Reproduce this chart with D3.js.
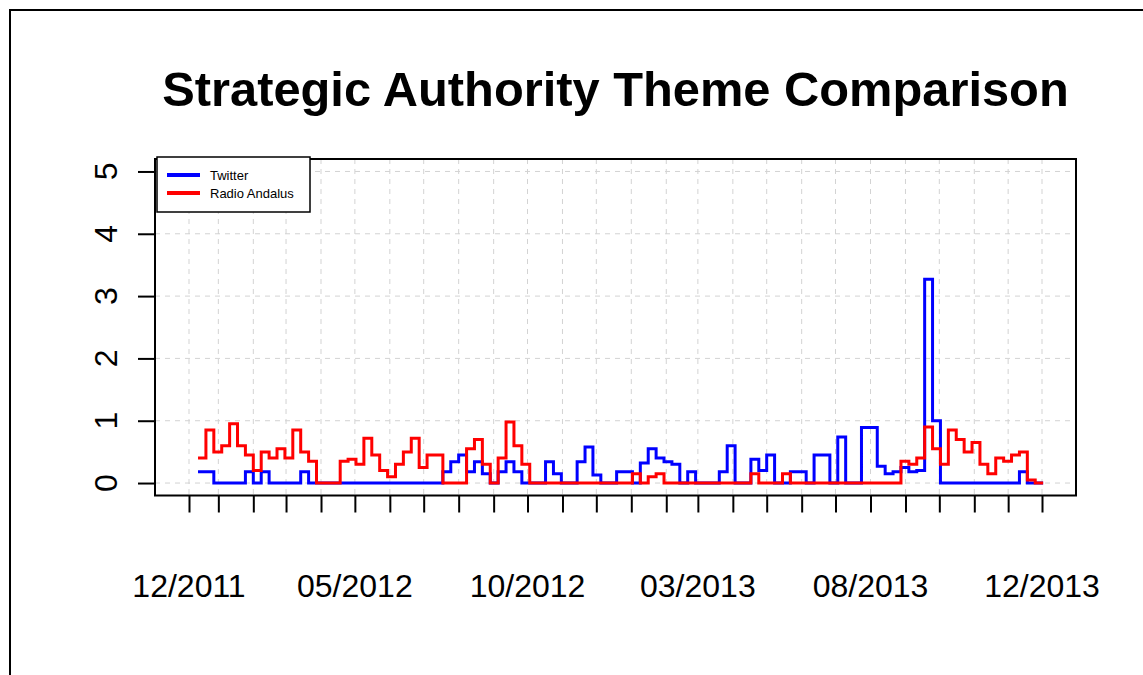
<!DOCTYPE html>
<html>
<head>
<meta charset="utf-8">
<script src="https://cdn.jsdelivr.net/npm/d3@7"></script>
<style>
  body { margin: 0; background: #fff; }
  text { font-family: "Liberation Sans", Arial, sans-serif; }
</style>
</head>
<body>
<div id="chart"></div>
<script>
// weekly values, first week starting 14 Dec 2011
var twitterValues = [
  0.18, 0.18, 0, 0, 0, 0, 0.18, 0, 0.18, 0,
  0, 0, 0, 0.18, 0, 0, 0, 0, 0, 0,
  0, 0, 0, 0, 0, 0, 0, 0, 0, 0,
  0, 0.18, 0.34, 0.45, 0.18, 0.34, 0.15, 0, 0.18, 0.34,
  0.18, 0, 0, 0, 0.34, 0.15, 0, 0, 0.34, 0.58,
  0.13, 0, 0, 0.18, 0.18, 0, 0.32, 0.55, 0.4, 0.34,
  0.3, 0, 0.18, 0, 0, 0, 0.18, 0.6, 0, 0,
  0.38, 0.2, 0.45, 0, 0, 0.18, 0.18, 0, 0.45, 0.45,
  0, 0.74, 0, 0, 0.89, 0.89, 0.27, 0.15, 0.18, 0.25,
  0.18, 0.2, 3.27, 1.0, 0, 0, 0, 0, 0, 0,
  0, 0, 0, 0, 0.18, 0, 0
];
var radioValues = [
  0.4, 0.85, 0.5, 0.6, 0.95, 0.6, 0.45, 0.2, 0.5, 0.4,
  0.55, 0.4, 0.85, 0.5, 0.35, 0, 0, 0, 0.35, 0.38,
  0.3, 0.72, 0.45, 0.2, 0.1, 0.3, 0.5, 0.72, 0.25, 0.45,
  0.45, 0, 0, 0, 0.55, 0.7, 0.3, 0, 0.4, 0.98,
  0.6, 0.3, 0, 0, 0, 0, 0, 0, 0, 0,
  0, 0, 0, 0, 0, 0.15, 0, 0.1, 0.15, 0,
  0, 0, 0, 0, 0, 0, 0, 0, 0, 0,
  0.15, 0, 0, 0, 0.15, 0, 0, 0, 0, 0,
  0, 0, 0, 0, 0, 0, 0, 0, 0, 0.35,
  0.3, 0.4, 0.9, 0.55, 0.3, 0.85, 0.7, 0.5, 0.65, 0.3,
  0.15, 0.4, 0.35, 0.45, 0.5, 0.05, 0
];
var seriesNames = ["Twitter", "Radio Andalus"];
var seriesColors = ["#0000ff", "#ff0000"];

var firstWeek = new Date(2011, 11, 14);
var axisStart = new Date(2011, 11, 6);
var axisEnd = new Date(2013, 11, 31);
var xLabelDates = [axisStart, new Date(2012, 4, 1), new Date(2012, 9, 1),
                   new Date(2013, 2, 1), new Date(2013, 7, 1), axisEnd];
var xLabels = ["12/2011", "05/2012", "10/2012", "03/2013", "08/2013", "12/2013"];
var yTicks = [0, 1, 2, 3, 4, 5];

var width = 1143, height = 675;
var box = {left: 155, right: 1076, top: 159, bottom: 495.5};

// month ticks, plus the first and last day
var xTicks = [axisStart].concat(d3.timeMonth.range(new Date(2012, 0, 1), new Date(2013, 11, 2)), [axisEnd]);

var x = d3.scaleTime()
    .domain([axisStart, axisEnd])
    .range([189, 1042]);

var y = d3.scaleLinear()
    .domain([-0.2, 5.2])
    .range([box.bottom, box.top]);

var svg = d3.select("#chart")
    .append("svg")
    .attr("width", width)
    .attr("height", height);

svg.append("rect")
    .attr("width", width)
    .attr("height", height)
    .attr("fill", "#fff");

// outer frame
svg.append("rect")
    .attr("x", 10).attr("y", 10)
    .attr("width", width + 20).attr("height", height + 20)
    .attr("fill", "none")
    .attr("stroke", "#000")
    .attr("stroke-width", 2);

svg.append("text")
    .attr("x", (box.left + box.right) / 2)
    .attr("y", 106)
    .attr("text-anchor", "middle")
    .attr("font-size", 48.8)
    .attr("font-weight", "bold")
    .text("Strategic Authority Theme Comparison");

// grid
svg.append("g")
    .selectAll("line")
    .data(xTicks)
    .enter()
    .append("line")
    .attr("x1", function(d) { return x(d); })
    .attr("x2", function(d) { return x(d); })
    .attr("y1", box.top)
    .attr("y2", box.bottom)
    .attr("stroke", "#d3d3d3")
    .attr("stroke-dasharray", "5,5");

svg.append("g")
    .selectAll("line")
    .data(yTicks)
    .enter()
    .append("line")
    .attr("x1", box.left)
    .attr("x2", box.right)
    .attr("y1", function(d) { return y(d); })
    .attr("y2", function(d) { return y(d); })
    .attr("stroke", "#d3d3d3")
    .attr("stroke-dasharray", "5,5");

// step lines
var line = d3.line()
    .x(function(d) { return x(d.date); })
    .y(function(d) { return y(d.value); })
    .curve(d3.curveStepAfter);

function toPoints(values) {
    var pts = values.map(function(v, i) {
        return {date: d3.timeDay.offset(firstWeek, 7 * i), value: v};
    });
    pts.push({date: d3.timeDay.offset(firstWeek, 7 * values.length), value: values[values.length - 1]});
    return pts;
}

[twitterValues, radioValues].forEach(function(vals, i) {
    svg.append("path")
        .datum(toPoints(vals))
        .attr("d", line)
        .attr("fill", "none")
        .attr("stroke", seriesColors[i])
        .attr("stroke-width", 3)
        .attr("stroke-linejoin", "miter");
});

// axes
var xAxis = svg.append("g")
    .attr("transform", "translate(0," + box.bottom + ")")
    .call(d3.axisBottom(x).tickValues(xTicks).tickSize(17).tickFormat(""));
xAxis.select(".domain").remove();
xAxis.selectAll("line").attr("stroke", "#000").attr("stroke-width", 2);

var yAxis = svg.append("g")
    .attr("transform", "translate(" + box.left + ",0)")
    .call(d3.axisLeft(y).tickValues(yTicks).tickSize(17).tickFormat(""));
yAxis.select(".domain").remove();
yAxis.selectAll("line").attr("stroke", "#000").attr("stroke-width", 2);

svg.append("g")
    .selectAll("text")
    .data(xLabels)
    .enter()
    .append("text")
    .attr("x", function(d, i) { return x(xLabelDates[i]); })
    .attr("y", 597)
    .attr("text-anchor", "middle")
    .attr("font-size", 32)
    .text(function(d) { return d; });

svg.append("g")
    .selectAll("text")
    .data(yTicks)
    .enter()
    .append("text")
    .attr("transform", function(d) { return "translate(117," + y(d) + ") rotate(-90)"; })
    .attr("text-anchor", "middle")
    .attr("font-size", 32)
    .text(function(d) { return d; });

// plot box
svg.append("rect")
    .attr("x", box.left).attr("y", box.top)
    .attr("width", box.right - box.left)
    .attr("height", box.bottom - box.top)
    .attr("fill", "none")
    .attr("stroke", "#000")
    .attr("stroke-width", 2);

// legend
var legend = svg.append("g").attr("transform", "translate(157,157)");
legend.append("rect")
    .attr("width", 153).attr("height", 55)
    .attr("fill", "#fff")
    .attr("stroke", "#000")
    .attr("stroke-width", 1.5);
seriesNames.forEach(function(name, i) {
    legend.append("line")
        .attr("x1", 10).attr("x2", 43)
        .attr("y1", 18 + i * 18).attr("y2", 18 + i * 18)
        .attr("stroke", seriesColors[i])
        .attr("stroke-width", 4);
    legend.append("text")
        .attr("x", 53)
        .attr("y", 18 + i * 18 + 4.5)
        .attr("font-size", 13)
        .text(name);
});
</script>
</body>
</html>
